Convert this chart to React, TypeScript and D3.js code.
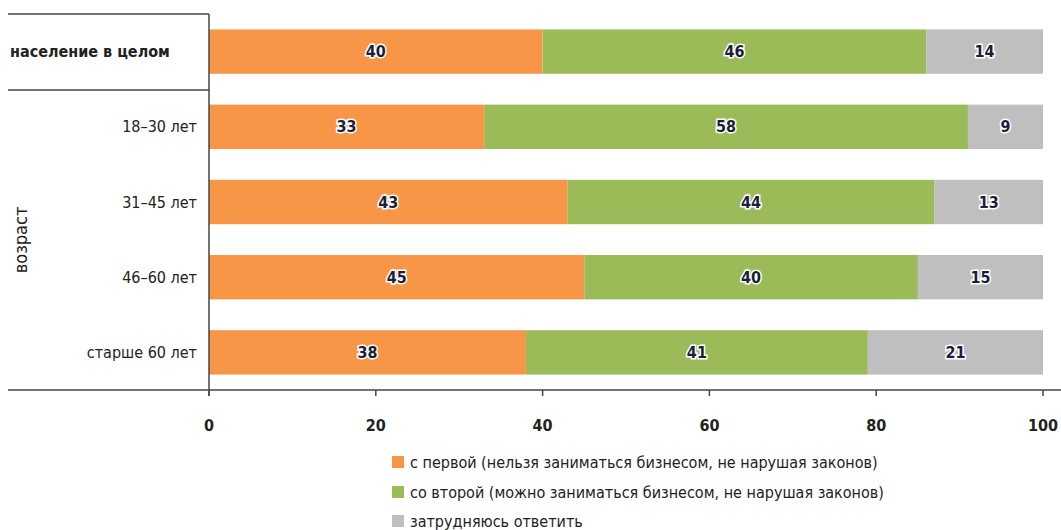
import { useEffect, useRef } from "react";
import * as d3 from "d3";

const categories = ["население в целом", "18–30 лет", "31–45 лет", "46–60 лет", "старше 60 лет"];
const firstVals = [40, 33, 43, 45, 38];
const secondVals = [46, 58, 44, 40, 41];
const hardVals = [14, 9, 13, 15, 21];
const seriesNames = [
  "с первой (нельзя заниматься бизнесом, не нарушая законов)",
  "со второй (можно заниматься бизнесом, не нарушая законов)",
  "затрудняюсь ответить",
];
const colors = ["#F79646", "#9BBB59", "#BFBFBF"];
const ticks = [0, 20, 40, 60, 80, 100];

const W = 1061;
const H = 530;
const FONT = "'Liberation Sans Narrow', 'DejaVu Sans Condensed', 'Open Sans', sans-serif";

const App = () => {
  const svgRef = useRef<SVGSVGElement | null>(null);

  useEffect(() => {
    if (!svgRef.current) return;
    const svg = d3.select(svgRef.current);
    svg.selectAll("*").remove();

    const x = d3.scaleLinear().domain([0, 100]).range([209, 1043]);
    const y = d3.scaleBand<string>().domain(categories).range([14, 390]).paddingInner(0.41).paddingOuter(0.205);

    const rows = categories.map((c, i) => {
      const vals = [firstVals[i], secondVals[i], hardVals[i]];
      let acc = 0;
      return vals.map((v, k) => {
        const s = { cat: c, k, x0: acc, x1: acc + v, v };
        acc += v;
        return s;
      });
    });

    const g = svg.append("g");
    rows.flat().forEach((s) => {
      g.append("rect")
        .attr("x", x(s.x0))
        .attr("y", y(s.cat)!)
        .attr("width", x(s.x1) - x(s.x0))
        .attr("height", y.bandwidth())
        .attr("fill", colors[s.k]);
      g.append("text")
        .attr("x", (x(s.x0) + x(s.x1)) / 2)
        .attr("y", y(s.cat)! + y.bandwidth() / 2)
        .attr("dy", "0.35em")
        .attr("text-anchor", "middle")
        .attr("font-family", FONT)
        .attr("font-size", 16)
        .attr("font-weight", "bold")
        .attr("fill", "#1a1f3a")
        .attr("stroke", "white")
        .attr("stroke-width", 3)
        .attr("paint-order", "stroke")
        .text(s.v);
    });

    // frame lines
    const lc = "#444";
    svg.append("line").attr("x1", 8).attr("x2", 209).attr("y1", 14).attr("y2", 14).attr("stroke", lc).attr("stroke-width", 1.5);
    svg.append("line").attr("x1", 8).attr("x2", 209).attr("y1", 90).attr("y2", 90).attr("stroke", lc).attr("stroke-width", 1.5);
    svg.append("line").attr("x1", 209).attr("x2", 209).attr("y1", 14).attr("y2", 396).attr("stroke", lc).attr("stroke-width", 1.5);
    svg.append("line").attr("x1", 8).attr("x2", W).attr("y1", 390).attr("y2", 390).attr("stroke", lc).attr("stroke-width", 1.5);

    // x axis ticks
    const ax = svg.append("g");
    ticks.forEach((t) => {
      ax.append("line").attr("x1", x(t)).attr("x2", x(t)).attr("y1", 390).attr("y2", 396).attr("stroke", lc).attr("stroke-width", 1.5);
      ax.append("text")
        .attr("x", x(t))
        .attr("y", 431)
        .attr("text-anchor", "middle")
        .attr("font-family", FONT)
        .attr("font-size", 16)
        .attr("font-weight", "bold")
        .attr("fill", "#222")
        .text(t);
    });

    // category labels
    categories.forEach((c, i) => {
      const cy = y(c)! + y.bandwidth() / 2;
      svg.append("text")
        .attr("x", i === 0 ? 10 : 197)
        .attr("y", cy)
        .attr("dy", "0.35em")
        .attr("text-anchor", i === 0 ? "start" : "end")
        .attr("font-family", FONT)
        .attr("font-size", 16)
        .attr("font-weight", i === 0 ? "bold" : "normal")
        .attr("fill", "#222")
        .text(c);
    });

    svg.append("text")
      .attr("transform", "translate(21,240) rotate(-90)")
      .attr("text-anchor", "middle")
      .attr("dy", "0.35em")
      .attr("font-family", FONT)
      .attr("font-size", 18)
      .attr("fill", "#222")
      .text("возраст");

    // legend
    const legendY = [462, 492, 521];
    seriesNames.forEach((n, k) => {
      svg.append("rect").attr("x", 392).attr("y", legendY[k] - 6).attr("width", 12).attr("height", 12).attr("fill", colors[k]);
      svg.append("text")
        .attr("x", 410)
        .attr("y", legendY[k])
        .attr("dy", "0.35em")
        .attr("font-family", FONT)
        .attr("font-size", 16)
        .attr("fill", "#222")
        .text(n);
    });
  }, []);

  return <svg ref={svgRef} width={W} height={H} style={{ display: "block", position: "absolute", left: 0, top: 0 }} />;
};

export default App;
